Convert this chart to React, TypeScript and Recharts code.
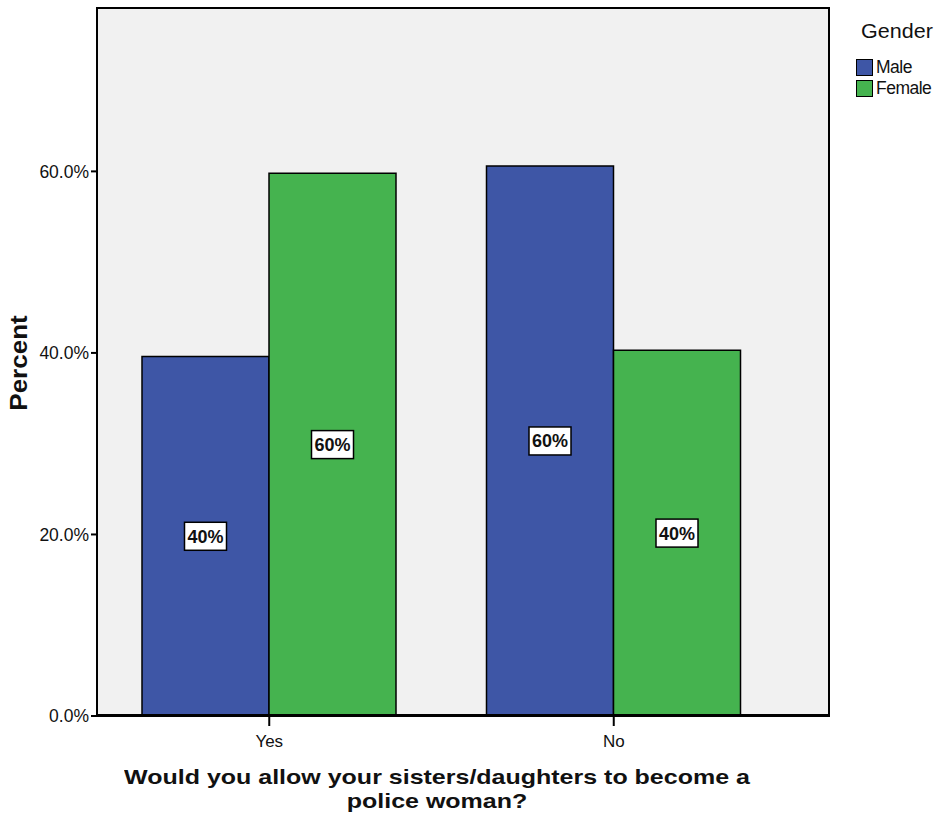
import React from "react";
import { BarChart, Bar, XAxis, YAxis, CartesianGrid, LabelList } from "recharts";

const categories = ["Yes", "No"];
const maleValues = [39.6, 60.6];
const femaleValues = [59.8, 40.3];
const maleLabels = ["40%", "60%"];
const femaleLabels = ["60%", "40%"];
const yTicks = [0, 20, 40, 60];
const legendTitle = "Gender";
const seriesNames = ["Male", "Female"];
const seriesColors = ["#3e56a6", "#45b34f"];

const data = categories.map((c, i) => ({
  cat: c,
  male: maleValues[i],
  female: femaleValues[i],
  maleLabel: maleLabels[i],
  femaleLabel: femaleLabels[i],
}));

const FONT = "'Liberation Sans', Arial, sans-serif";

const BoxLabel = (props: any) => {
  const { x, y, width, height, value } = props;
  const cx = x + width / 2;
  const cy = y + height / 2;
  const w = 42;
  const h = 28;
  return (
    <g>
      <rect x={cx - w / 2} y={cy - h / 2} width={w} height={h} fill="#ffffff" stroke="#000" strokeWidth={1.5} />
      <text x={cx} y={cy + 6.5} textAnchor="middle" fontFamily={FONT} fontSize={18} fontWeight={600} fill="#111">
        {value}
      </text>
    </g>
  );
};

const XTick = (props: any) => {
  const { x, y, payload } = props;
  return (
    <text x={x} y={y + 19} textAnchor="middle" fontFamily={FONT} fontSize={17} fill="#111">
      {payload.value}
    </text>
  );
};

export default function App() {
  return (
    <div style={{ position: "absolute", left: 0, top: 0, width: 939, height: 820, background: "#fff" }}>
      <BarChart
        width={939}
        height={820}
        data={data}
        margin={{ top: 8, right: 109, left: 0, bottom: 64 }}
        barCategoryGap={45}
        barGap={0}
      >
        <CartesianGrid horizontal={false} vertical={false} fill="#f1f1f1" />
        <XAxis
          dataKey="cat"
          padding={{ left: 0, right: 44 }}
          height={40}
          tickLine={{ stroke: "#000", strokeWidth: 2 }}
          tickSize={10}
          axisLine={{ stroke: "#000", strokeWidth: 2 }}
          tick={<XTick />}
        />
        <YAxis
          width={97}
          domain={[0, 78]}
          ticks={yTicks}
          allowDataOverflow
          tickFormatter={(v: number) => `${v.toFixed(1)}%`}
          tickLine={{ stroke: "#000", strokeWidth: 2 }}
          tickSize={6}
          axisLine={{ stroke: "#000", strokeWidth: 2 }}
          tick={{ fill: "#111", fontSize: 17.5, fontFamily: FONT }}
        />
        <Bar dataKey="male" fill={seriesColors[0]} stroke="#000" strokeWidth={1.5} isAnimationActive={false}>
          <LabelList dataKey="maleLabel" content={<BoxLabel />} />
        </Bar>
        <Bar dataKey="female" fill={seriesColors[1]} stroke="#000" strokeWidth={1.5} isAnimationActive={false}>
          <LabelList dataKey="femaleLabel" content={<BoxLabel />} />
        </Bar>
      </BarChart>
      {/* plot frame */}
      <div
        style={{
          position: "absolute",
          left: 96,
          top: 7,
          width: 734,
          height: 709,
          border: "2px solid #000",
          boxSizing: "border-box",
          pointerEvents: "none",
        }}
      />
      {/* legend */}
      <div style={{ position: "absolute", left: 856, top: 19, fontFamily: FONT, color: "#111" }}>
        <div style={{ fontSize: 20.5, marginLeft: 5, marginBottom: 14, transform: "scaleX(1.05)", transformOrigin: "left" }}>
          {legendTitle}
        </div>
        {seriesNames.map((name, i) => (
          <div key={name} style={{ display: "flex", alignItems: "center", height: 21 }}>
            <div
              style={{
                width: 17,
                height: 17,
                boxSizing: "border-box",
                background: seriesColors[i],
                border: "1.5px solid #000",
                marginRight: 3,
              }}
            />
            <span style={{ fontSize: 17.5, letterSpacing: -0.5 }}>{name}</span>
          </div>
        ))}
      </div>
      <div
        style={{
          position: "absolute",
          left: 19 - 60,
          top: 363 - 14,
          width: 120,
          height: 28,
          lineHeight: "28px",
          transform: "rotate(-90deg) scaleX(1.13)",
          transformOrigin: "center",
          fontFamily: FONT,
          fontWeight: 700,
          fontSize: 23,
          color: "#111",
          textAlign: "center",
        }}
      >
        Percent
      </div>
      <div
        style={{
          position: "absolute",
          left: 437 - 350,
          width: 700,
          top: 765,
          textAlign: "center",
          fontFamily: FONT,
          fontWeight: 700,
          fontSize: 21,
          lineHeight: "24px",
          color: "#111",
          transform: "scaleX(1.19)",
          transformOrigin: "center",
        }}
      >
        Would you allow your sisters/daughters to become a
        <br />
        police woman?
      </div>
    </div>
  );
}
